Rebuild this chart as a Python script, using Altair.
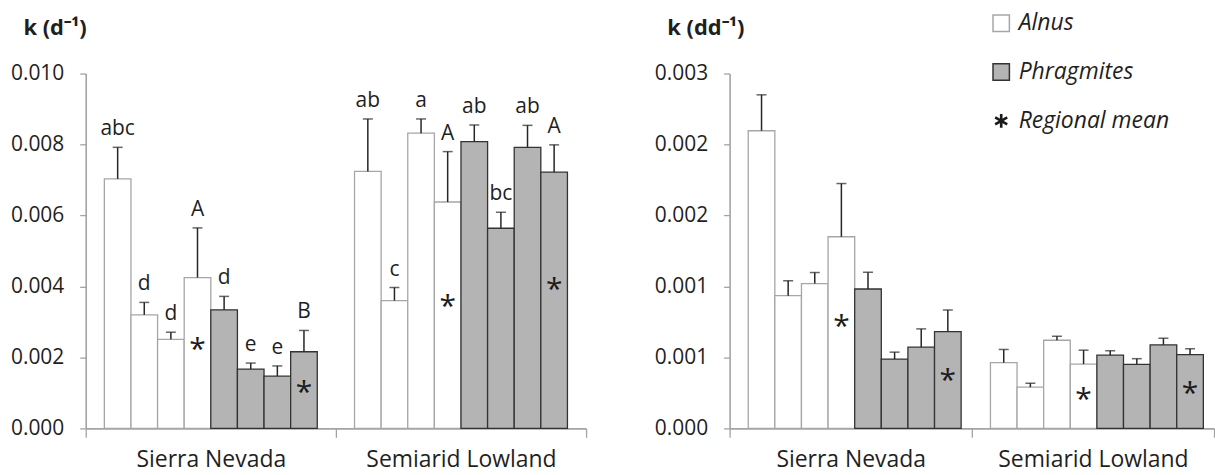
import math
import altair as alt
import pandas as pd

regions = ["Sierra Nevada", "Semiarid Lowland"]
species = ["Alnus", "Alnus", "Alnus", "Alnus", "Phragmites", "Phragmites", "Phragmites", "Phragmites"]
is_mean = [False, False, False, True, False, False, False, True]
species_domain = ["Alnus", "Phragmites", "Regional mean"]

# k (d-1)
kd_sierra = [0.00703, 0.00320, 0.00251, 0.00425, 0.00334, 0.00167, 0.00147, 0.00216]
kd_sierra_se = [0.00089, 0.00035, 0.00020, 0.00140, 0.00038, 0.00017, 0.00029, 0.00060]
kd_lowland = [0.00724, 0.00360, 0.00832, 0.00638, 0.00808, 0.00564, 0.00792, 0.00722]
kd_lowland_se = [0.00148, 0.00037, 0.00040, 0.00142, 0.00047, 0.00045, 0.00062, 0.00077]
letters_sierra = ["abc", "d", "d", "A", "d", "e", "e", "B"]
letters_lowland = ["ab", "c", "a", "A", "ab", "bc", "ab", "A"]

# k (dd-1)
kdd_sierra = [0.002097, 0.000935, 0.001020, 0.001350, 0.000982, 0.000488, 0.000572, 0.000682]
kdd_sierra_se = [0.000253, 0.000105, 0.000078, 0.000375, 0.000118, 0.000049, 0.000129, 0.000152]
kdd_lowland = [0.000463, 0.000290, 0.000621, 0.000453, 0.000516, 0.000451, 0.000589, 0.000519]
kdd_lowland_se = [0.000093, 0.000028, 0.000028, 0.000098, 0.000031, 0.000040, 0.000046, 0.000042]

left_ticks = [0.0, 0.002, 0.004, 0.006, 0.008, 0.010]
right_ticks = [0.0, 0.0005, 0.001, 0.0015, 0.002, 0.0025]

FONT = "Open Sans"
AXIS_GREY = "#a3a3a3"
TXT = "#1f1f1f"


def asterisk_path(half_width=0.16, length=0.85):
    parts = []
    for ang in (90, 30, 150):
        a = math.radians(ang)
        dx, dy = math.cos(a) * length, -math.sin(a) * length
        ux, uy = math.cos(a), -math.sin(a)
        px, py = -uy * half_width, ux * half_width
        pts = [(dx + px, dy + py), (dx - px, dy - py), (-dx - px, -dy - py), (-dx + px, -dy + py)]
        parts.append("M" + "L".join(f"{x:.3f},{y:.3f}" for x, y in pts) + "Z")
    return "".join(parts)


def build_df(vals, ses, letters):
    rows = []
    for r, region in enumerate(regions):
        for i in range(8):
            rows.append({
                "region": region,
                "bar": i,
                "species": species[i],
                "mean": is_mean[i],
                "value": vals[r][i],
                "se": ses[r][i],
                "letter": letters[r][i] if letters else "",
            })
    return pd.DataFrame(rows)


df_left = build_df([kd_sierra, kd_lowland], [kd_sierra_se, kd_lowland_se],
                   [letters_sierra, letters_lowland])
df_right = build_df([kdd_sierra, kdd_lowland], [kdd_sierra_se, kdd_lowland_se], None)

fill_scale = alt.Scale(domain=species_domain, range=["#ffffff", "#b4b4b4", "#1a1a1a"])
stroke_scale = alt.Scale(domain=species_domain, range=["#a6a6a6", "#333333", "transparent"])
shape_scale = alt.Scale(domain=species_domain, range=["square", "square", asterisk_path()])


def panel(df, ymax, ticks, title, width, with_legend, with_letters):
    x = alt.X("region:N", sort=regions, title=None,
              scale=alt.Scale(paddingInner=0, paddingOuter=0),
              axis=alt.Axis(labelAngle=0, tickBand="extent", tickSize=9, labelLimit=0,
                            labelPadding=11, labelFontSize=23, labelColor=TXT,
                            labelFont=FONT, domainColor=AXIS_GREY, tickColor=AXIS_GREY,
                            domainWidth=1.6, tickWidth=1.3))
    xo = alt.XOffset("bar:O", scale=alt.Scale(paddingInner=0, paddingOuter=0.7))
    yscale = alt.Scale(domain=[0, ymax], nice=False, zero=True)
    yaxis = alt.Axis(values=ticks, format=".3f", grid=False, tickSize=6, labelPadding=16,
                     labelFontSize=21, labelColor=TXT, labelFont=FONT,
                     domainColor=AXIS_GREY, tickColor=AXIS_GREY, domainWidth=1.6, tickWidth=1.3,
                     title=title, titleAngle=0, titleAlign="left", titleBaseline="middle",
                     titleX=-63, titleY=-46, titleFont=FONT, titleFontSize=22,
                     titleFontWeight="bold", titleColor=TXT)

    if with_legend:
        leg = alt.Legend(title=None, orient="none", legendX=261, legendY=-62, padding=0,
                         labelFont=FONT, labelFontSize=23, labelFontStyle="italic",
                         labelColor=TXT, symbolSize=270, symbolStrokeWidth=1.5,
                         symbolOpacity=1, rowPadding=25, labelOffset=6)
    else:
        leg = None

    base = alt.Chart(df)
    bars = base.mark_bar(strokeWidth=1.3).encode(
        x=x, xOffset=xo,
        y=alt.Y("value:Q", stack=None, scale=yscale, axis=yaxis),
        fill=alt.Fill("species:N", scale=fill_scale, legend=leg),
        stroke=alt.Stroke("species:N", scale=stroke_scale, legend=leg),
    )
    err = base.transform_calculate(hi="datum.value + datum.se")
    rule = err.mark_rule(color="#262626", strokeWidth=1.5).encode(
        x=x, xOffset=xo, y=alt.Y("value:Q", stack=None), y2="hi:Q")
    cap = err.mark_tick(color="#262626", thickness=1.5, size=10).encode(
        x=x, xOffset=xo, y=alt.Y("hi:Q"))
    star = base.transform_filter("datum.mean").transform_calculate(
        sy="datum.value * 0.57").mark_text(
        text="*", font=FONT, fontSize=30, color="#1a1a1a", baseline="middle", dy=8).encode(
        x=x, xOffset=xo, y=alt.Y("sy:Q"))
    layers = [bars, rule, cap, star]
    if with_letters:
        lab = err.mark_text(font=FONT, fontSize=21, color=TXT, baseline="alphabetic",
                            dy=-12).encode(x=x, xOffset=xo, y=alt.Y("hi:Q"), text="letter:N")
        layers.append(lab)
    if with_legend:
        key = base.transform_filter("false").mark_point(opacity=1).encode(
            x=x, xOffset=xo, y=alt.Y("value:Q"),
            shape=alt.Shape("species:N", scale=shape_scale, legend=leg),
            fill=alt.Fill("species:N", scale=fill_scale, legend=leg),
            stroke=alt.Stroke("species:N", scale=stroke_scale, legend=leg))
        layers.append(key)
    return alt.layer(*layers).properties(width=width, height=356)


left = panel(df_left, 0.010, left_ticks, "k (d⁻¹)", 502, False, True)
right = panel(df_right, 0.0025, right_ticks, "k (dd⁻¹)", 486, True, False)

chart = alt.hconcat(left, right, spacing=67).resolve_scale(
    fill="independent", stroke="independent", shape="independent", y="independent"
).properties(
    padding={"left": 10, "top": 11, "right": 0, "bottom": 4},
    background="white",
).configure_view(strokeWidth=0)

chart.save("out.html", embed_options={"renderer": "svg", "actions": False})
